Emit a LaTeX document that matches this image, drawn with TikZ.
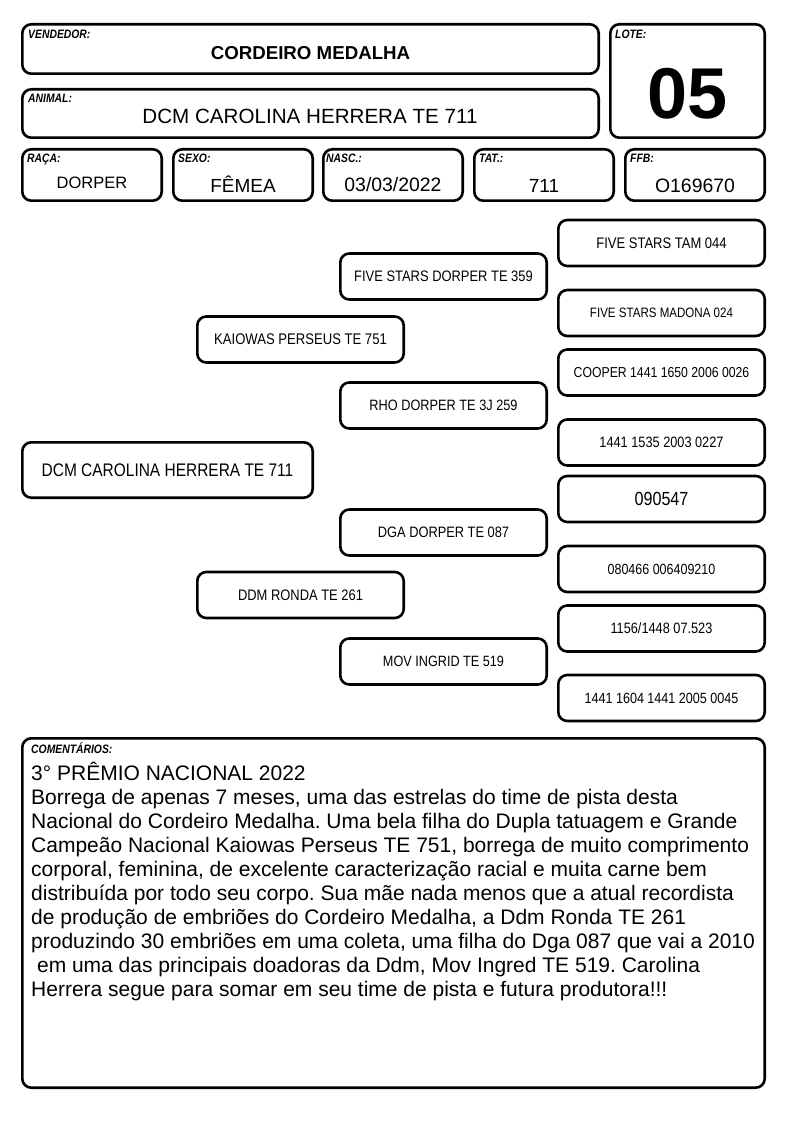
\documentclass[tikz,border=0pt]{standalone}
\usepackage{fontspec}
\setmainfont{Liberation Sans}
\newfontfamily\pedfont{Liberation Sans}[FakeStretch=0.85]
\newcommand{\pxsize}[1]{\fontsize{#1}{#1}\selectfont}
\frenchspacing
\tikzset{
  cardbox/.style={line width=2.6pt,rounded corners=9pt},
  pedbox/.style={draw,line width=2.6pt,rounded corners=9pt,inner sep=0pt,
    minimum width=206.4pt,minimum height=46pt,font=\pedfont},
  fieldlabel/.style={anchor=base west,inner sep=0pt,font=\pedfont\pxsize{12.2}\bfseries\itshape},
  fieldvalue/.style={anchor=base,inner sep=0pt}
}

\begin{document}
\begin{tikzpicture}[x=1pt,y=-1pt]
  \useasboundingbox (0,0) rectangle (794,1123);
  % header
  \draw[cardbox] (22.3,24.3) rectangle (598.7,73.7);
    \node[fieldlabel] (vend-lbl) at (28,39) {VENDEDOR:};
    \node[fieldvalue,font=\pxsize{18.7}\bfseries] (vend-val) at (310.5,60) {CORDEIRO MEDALHA};
  \draw[cardbox] (22.3,89.3) rectangle (598.7,137.7);
    \node[fieldlabel] (anim-lbl) at (28,103) {ANIMAL:};
    \node[fieldvalue,font=\pxsize{20.6}] (anim-val) at (310,123.3) {DCM CAROLINA HERRERA TE 711};
  \draw[cardbox] (610.3,24.3) rectangle (764.7,137.7);
    \node[fieldlabel] (lote-lbl) at (615,39) {LOTE:};
    \node[fieldvalue,font=\pxsize{72}\bfseries] (lote-val) at (687.5,118.3) {05};
  \foreach \bx/\lx/\nm/\bl/\bv/\bs/\by in {21/27/raca/RAÇA:/DORPER/16.5/188.3,
      172/178/sexo/SEXO:/FÊMEA/19/192.3, 322/326/nasc/NASC.:/{03/03/2022}/19.4/192,
      473/479/tat/TAT.:/711/19/192.3, 624/630/ffb/FFB:/O169670/19.4/192.3} {
    \draw[cardbox] (\bx+1.3,149.3) rectangle (\bx+140.7,200.7);
    \node[fieldlabel] (\nm-lbl) at (\lx,163) {\bl};
    \node[fieldvalue,font=\pxsize{\bs}] (\nm-val) at (\bx+71,\by) {\bv};}

  % pedigree
  \node[pedbox,minimum width=290.4pt,minimum height=55.4pt,font=\pedfont\pxsize{18.2}]
    (animal) at (167.5,470) {DCM CAROLINA HERRERA TE 711};
  \foreach \nm/\cx/\cy/\ps/\txt in {
      sire/300.5/339.5/15.4/KAIOWAS PERSEUS TE 751,
      dam/300.5/595/15.2/DDM RONDA TE 261,
      ss/443.5/276.5/15.2/FIVE STARS DORPER TE 359,
      sd/443.5/405.5/15/RHO DORPER TE 3J 259,
      ds/443.5/532.5/15.1/DGA DORPER TE 087,
      dd/443.5/661.5/14.9/MOV INGRID TE 519,
      sss/661.5/243/15.3/FIVE STARS TAM 044,
      ssd/661.5/313/13.6/FIVE STARS MADONA 024,
      sds/661.5/372.5/14.4/COOPER 1441 1650 2006 0026,
      sdd/661.5/442.5/15/1441 1535 2003 0227,
      dss/661.5/499/19/090547,
      dsd/661.5/569/14.7/080466 006409210,
      dds/661.5/628.5/15/{1156/1448 07.523},
      ddd/661.5/698/14.8/1441 1604 1441 2005 0045} {
    \node[pedbox,font=\pedfont\pxsize{\ps}] (\nm) at (\cx,\cy) {\txt};}

  % comments
  \draw[cardbox] (22.3,738.3) rectangle (764.7,1087.7);
    \node[fieldlabel] (com-lbl) at (31,753) {COMENTÁRIOS:};
    \node[anchor=base west,inner sep=0pt,align=left,font=\fontsize{21}{24}\selectfont]
      (com-txt) at (31,996) {3° PRÊMIO NACIONAL 2022\\
      Borrega de apenas 7 meses, uma das estrelas do time de pista desta\\
      Nacional do Cordeiro Medalha. Uma bela filha do Dupla tatuagem e Grande\\
      Campeão Nacional Kaiowas Perseus TE 751, borrega de muito comprimento\\
      corporal, feminina, de excelente caracterização racial e muita carne bem\\
      distribuída por todo seu corpo. Sua mãe nada menos que a atual recordista\\
      de produção de embriões do Cordeiro Medalha, a Ddm Ronda TE 261\\
      produzindo 30 embriões em uma coleta, uma filha do Dga 087 que vai a 2010\\
      \hspace*{0.28em}em uma das principais doadoras da Ddm, Mov Ingred TE 519. Carolina\\
      Herrera segue para somar em seu time de pista e futura produtora!!!};
\end{tikzpicture}
\end{document}
